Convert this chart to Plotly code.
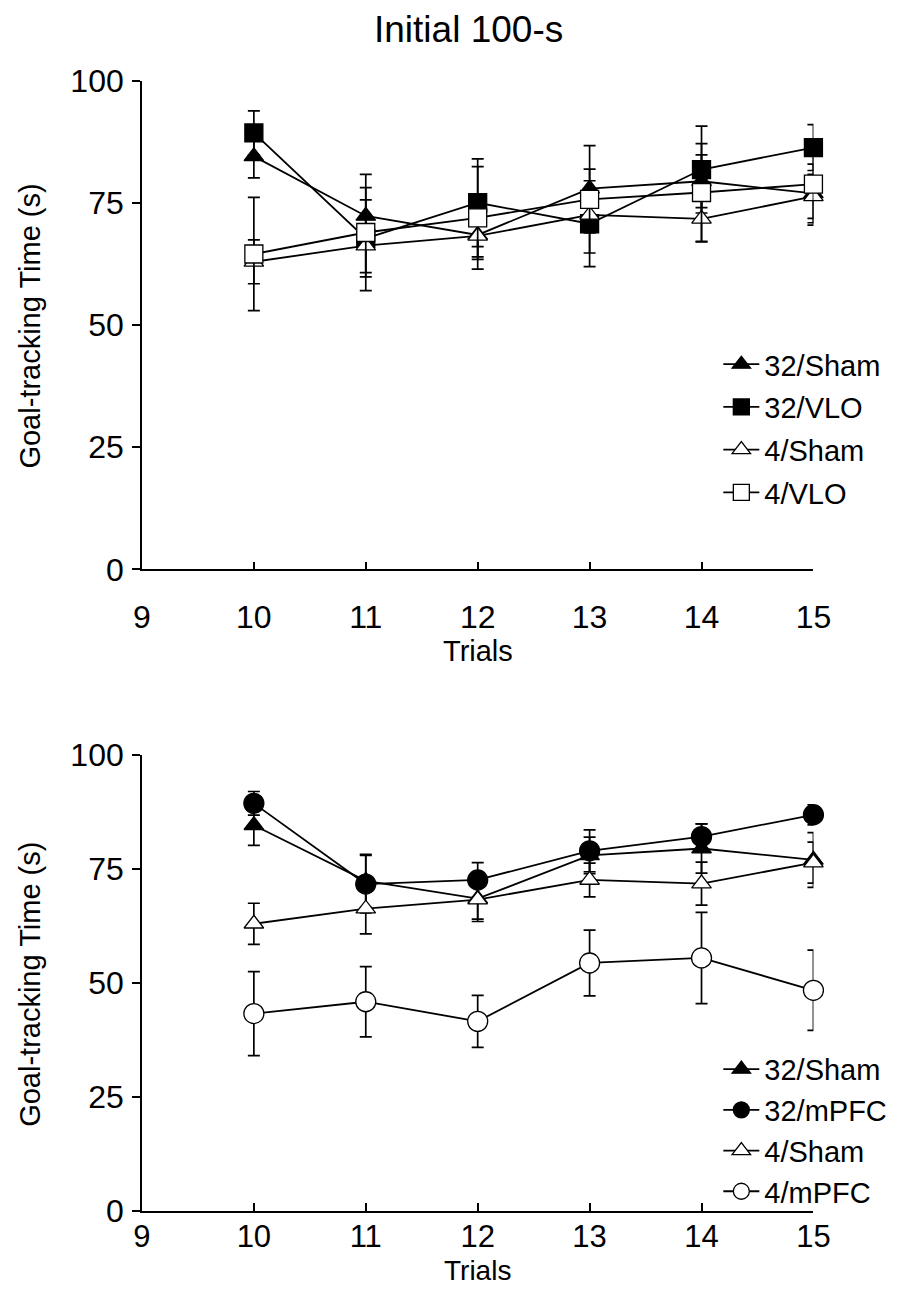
import plotly.graph_objects as go

# Trials and group means / SEMs (goal-tracking time, seconds)
trials = [10, 11, 12, 13, 14, 15]

sham32_mean = [84.6, 72.4, 68.5, 78.0, 79.5, 77.0]
sham32_sem = [4.4, 5.8, 4.5, 4.0, 5.4, 6.0]

sham4_mean = [63.0, 66.3, 68.3, 72.6, 71.8, 76.4]
sham4_sem = [4.5, 5.5, 4.8, 3.7, 4.7, 4.5]

vlo32_mean = [89.4, 67.8, 75.1, 70.8, 81.9, 86.4]
vlo32_sem = [4.5, 7.9, 9.0, 8.8, 8.9, 4.7]

vlo4_mean = [64.6, 69.0, 72.0, 75.8, 77.2, 78.9]
vlo4_sem = [11.6, 11.9, 10.5, 11.0, 10.0, 8.4]

mpfc32_mean = [89.4, 71.7, 72.6, 79.0, 82.1, 86.9]
mpfc32_sem = [2.6, 6.3, 3.8, 4.6, 2.8, 2.2]

mpfc4_mean = [43.3, 45.9, 41.6, 54.4, 55.5, 48.4]
mpfc4_sem = [9.2, 7.7, 5.7, 7.2, 10.0, 8.8]

x_ticks = [9, 10, 11, 12, 13, 14, 15]
y_ticks = [0, 25, 50, 75, 100]

FONT = "Liberation Sans, Arial, sans-serif"
BLACK = "#000000"


def series(name, mean, sem, symbol, fill, size, xa, ya, legend):
    return go.Scatter(
        x=trials, y=mean, name=name, mode="lines+markers",
        xaxis=xa, yaxis=ya, legend=legend, legendgroup=name,
        line=dict(color=BLACK, width=1.8),
        marker=dict(symbol=symbol, size=size, color=fill,
                    line=dict(color=BLACK, width=1.3)),
        error_y=dict(type="data", array=sem, visible=True,
                     color=BLACK, thickness=1.7, width=6),
        cliponaxis=False,
    )


fig = go.Figure()

# Upper panel: VLO lesions
fig.add_trace(series("32/Sham", sham32_mean, sham32_sem, "triangle-up", BLACK, 17, "x", "y", "legend"))
fig.add_trace(series("32/VLO", vlo32_mean, vlo32_sem, "square", BLACK, 18, "x", "y", "legend"))
fig.add_trace(series("4/Sham", sham4_mean, sham4_sem, "triangle-up", "white", 17, "x", "y", "legend"))
fig.add_trace(series("4/VLO", vlo4_mean, vlo4_sem, "square", "white", 18, "x", "y", "legend"))

# Lower panel: mPFC lesions
fig.add_trace(series("32/Sham", sham32_mean, sham32_sem, "triangle-up", BLACK, 17, "x2", "y2", "legend2"))
fig.add_trace(series("32/mPFC", mpfc32_mean, mpfc32_sem, "circle", BLACK, 20, "x2", "y2", "legend2"))
fig.add_trace(series("4/Sham", sham4_mean, sham4_sem, "triangle-up", "white", 17, "x2", "y2", "legend2"))
fig.add_trace(series("4/mPFC", mpfc4_mean, mpfc4_sem, "circle", "white", 20, "x2", "y2", "legend2"))

W, H = 911, 1301
x_dom = [137 / W, 829 / W]
top_dom = [1 - 567 / H, 1 - 65 / H]
bot_dom = [1 - 1227 / H, 1 - 758 / H]

tick_font = dict(family=FONT, size=32, color=BLACK)

xcommon = dict(range=[9, 15], tickvals=x_ticks, ticks="inside", ticklen=8,
               tickwidth=1.5, tickcolor=BLACK, showline=True, linewidth=1.6,
               linecolor=BLACK, showgrid=False, zeroline=False)
ycommon = dict(range=[0, 100], tickvals=y_ticks, ticks="outside", ticklen=8,
               tickwidth=1.5, tickcolor=BLACK, showline=True, linewidth=1.6,
               linecolor=BLACK, showgrid=False, zeroline=False,
               tickfont=tick_font, ticklabelstandoff=2)

legend_font = dict(family=FONT, size=29, color=BLACK)

fig.update_layout(
    width=W, height=H,
    margin=dict(l=0, r=0, t=0, b=0),
    paper_bgcolor="white", plot_bgcolor="white",
    font=dict(family=FONT, color=BLACK),
    xaxis=dict(domain=x_dom, anchor="y", ticklabelstandoff=18, tickfont=tick_font, **xcommon),
    yaxis=dict(domain=top_dom, anchor="x", **ycommon),
    xaxis2=dict(domain=x_dom, anchor="y2", ticklabelstandoff=-3,
                tickfont=dict(family=FONT, size=31, color=BLACK), **xcommon),
    yaxis2=dict(domain=bot_dom, anchor="x2", **ycommon),
    legend=dict(x=731 / W, y=1 - 330 / H, xanchor="left", yanchor="top",
                bgcolor="rgba(0,0,0,0)", font=legend_font,
                tracegroupgap=2, itemwidth=36),
    legend2=dict(x=731 / W, y=1 - 1055 / H, xanchor="left", yanchor="top",
                 bgcolor="rgba(0,0,0,0)", font=legend_font,
                 tracegroupgap=0, itemwidth=36),
    showlegend=True,
)

fig.add_annotation(text="Initial 100-s", x=474 / W, y=1 - 12 / H, xref="paper", yref="paper",
                   showarrow=False, font=dict(family=FONT, size=37, color=BLACK),
                   xanchor="center", yanchor="middle")
ytitle_font = dict(family=FONT, size=29, color=BLACK)
fig.add_annotation(text="Goal-tracking Time (s)", x=22 / W, y=1 - 317 / H, xref="paper", yref="paper",
                   showarrow=False, font=ytitle_font, textangle=-90, xanchor="center", yanchor="middle")
fig.add_annotation(text="Goal-tracking Time (s)", x=22 / W, y=1 - 994 / H, xref="paper", yref="paper",
                   showarrow=False, font=ytitle_font, textangle=-90, xanchor="center", yanchor="middle")
fig.add_annotation(text="Trials", x=483 / W, y=1 - 651 / H, xref="paper", yref="paper",
                   showarrow=False, font=dict(family=FONT, size=29, color=BLACK),
                   xanchor="center", yanchor="middle")
fig.add_annotation(text="Trials", x=483 / W, y=1 - 1288 / H, xref="paper", yref="paper",
                   showarrow=False, font=dict(family=FONT, size=28, color=BLACK),
                   xanchor="center", yanchor="middle")

fig.write_html("out.html")
